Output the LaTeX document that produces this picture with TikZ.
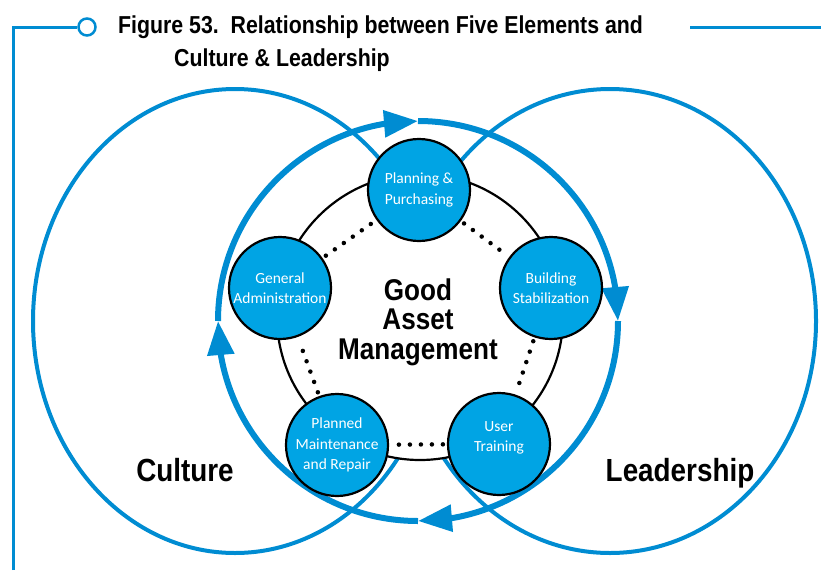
\documentclass[tikz,border=0pt]{standalone}
\usepackage{fontspec}
\usepackage{xcolor}
\usepackage{tikz}
\usetikzlibrary{arrows.meta,bending}
\newfontfamily\headfont[FakeStretch=0.87]{Liberation Sans}
\newfontfamily\cellfont{Carlito}
\definecolor{ringblue}{RGB}{0,140,210}
\definecolor{cellblue}{RGB}{0,164,228}

\begin{document}
\begin{tikzpicture}[x=1pt, y=-1pt,
  element/.style={circle, draw=black, line width=2.2pt, fill=cellblue,
    minimum size=102pt, inner sep=0pt, align=center, text=white,
    font=\cellfont\fontsize{15.5}{20.5}\selectfont},
  orbit/.style={draw=ringblue, line width=4pt},
  cycle/.style={draw=ringblue, line width=6pt, -{Triangle[length=34pt,width=26pt]}},
  dotlink/.style={line width=4.5pt, dash pattern=on 0pt off 11pt, line cap=round,
    shorten <=4pt, shorten >=4pt},
  rule/.style={draw=ringblue, line width=3pt},
  big/.style={anchor=base, inner sep=0pt, font=\headfont\bfseries\fontsize{32}{36}\selectfont},
  head/.style={anchor=base west, inner sep=0pt, font=\headfont\bfseries\fontsize{24.5}{28}\selectfont}
]
\useasboundingbox (0,0) rectangle (821,570);

% frame and title
\node[circle, draw=ringblue, line width=2.5pt, fill=white, minimum size=17pt, inner sep=0pt] (knob) at (87,27) {};
\coordinate (frametop) at (13,27);
\coordinate (framebot) at (13,570);
\coordinate (ruleL) at (690,27);
\coordinate (ruleR) at (821,27);
\draw[rule] (framebot) -- (frametop) -- (knob);
\draw[rule] (ruleL) -- (ruleR);
\node[head] (title) at (118,33) {Figure 53.\ \ Relationship between Five Elements and};
\node[head] (subtitle) at (174,66) {Culture \& Leadership};

% culture and leadership
\draw[orbit] (235,321) ellipse [x radius=202pt, y radius=232pt];
\draw[orbit] (610,321) ellipse [x radius=206pt, y radius=232pt];
\node[big] (culture) at (185,481) {Culture};
\node[big] (leader) at (680,481) {Leadership};

% cycle
\coordinate (hub) at (418,321);
\draw[cycle] ([shift={(180:200pt)}]hub) arc[start angle=180, end angle=90, radius=200pt];
\draw[cycle] ([shift={(90:200pt)}]hub) arc[start angle=90, end angle=0, radius=200pt];
\draw[cycle] ([shift={(0:200pt)}]hub) arc[start angle=0, end angle=-90, radius=200pt];
\draw[cycle] ([shift={(-90:200pt)}]hub) arc[start angle=-90, end angle=-180, radius=200pt];

% five elements
\node[circle, draw=black, line width=2.2pt, fill=white, minimum size=286pt] (core) at (420,317) {};
\node[align=center, font=\headfont\bfseries\fontsize{30}{29.5}\selectfont] (goal) at (418,322) {Good\\Asset\\Management};

\node[element] (plan) at (419,190) {Planning \&\\Purchasing};
\node[element] (admin) at (280,288) {General\\Administration};
\node[element] (build) at (551,288) {Building\\Stabilization};
\node[element] (maint) at (337,445) {Planned\\Maintenance\\and Repair};
\node[element] (user) at (499,444) {User\\Training\\[-6pt]};

\draw[dotlink] (plan) -- (build);
\draw[dotlink] (build) -- (user);
\draw[dotlink] (user) -- (maint);
\draw[dotlink] (maint) -- (admin);
\draw[dotlink] (admin) -- (plan);

\end{tikzpicture}
\end{document}
